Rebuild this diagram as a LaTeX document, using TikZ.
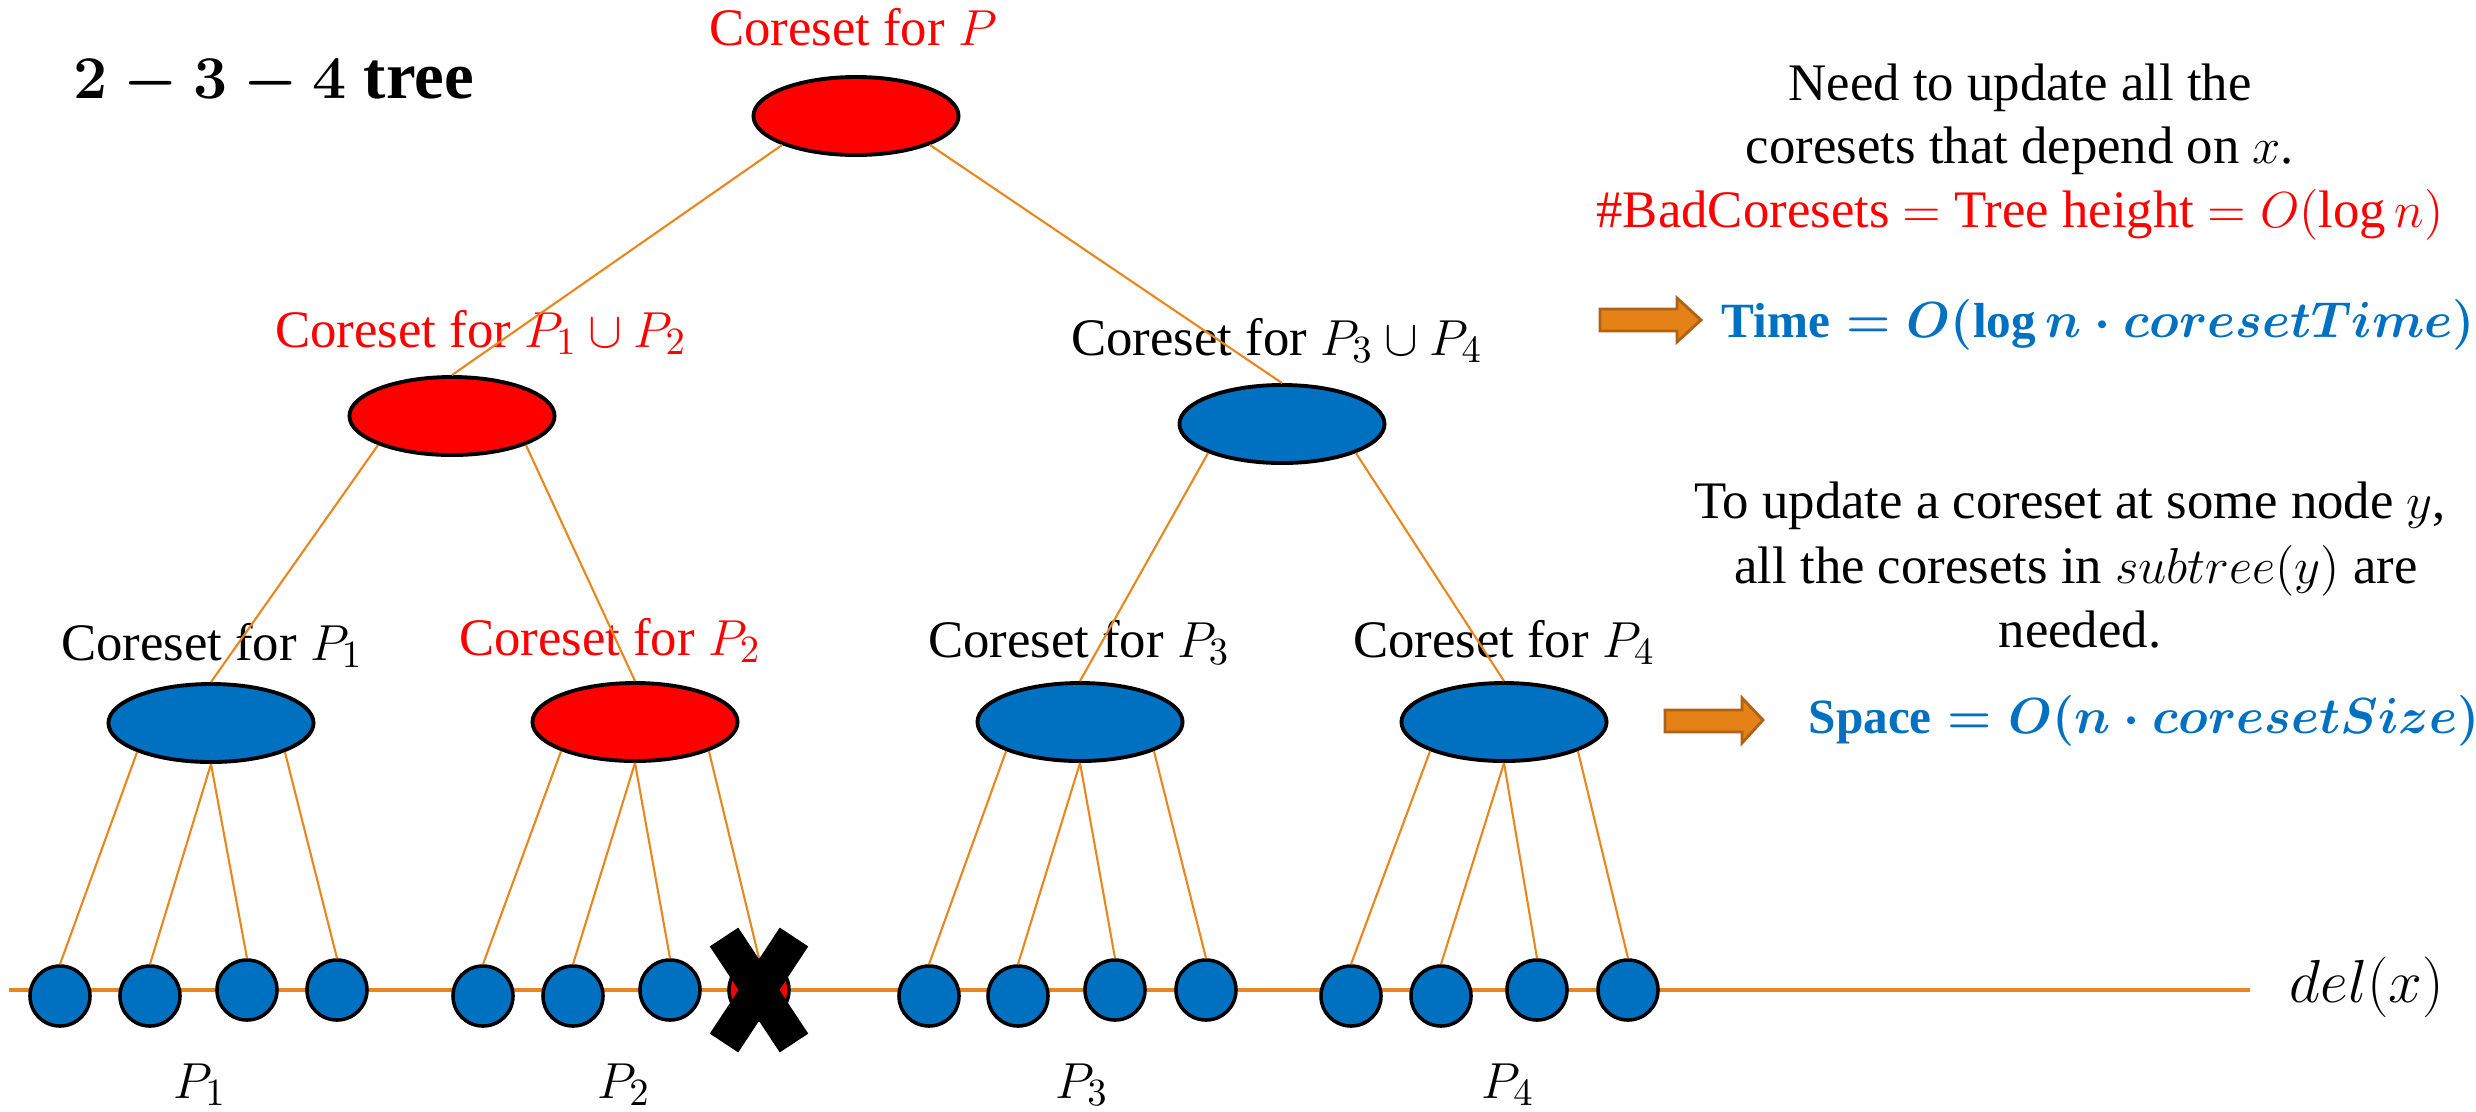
\documentclass[tikz,border=0pt]{standalone}
\usepackage{fontspec}
\setmainfont{Liberation Serif}
\usetikzlibrary{shapes.geometric}
\definecolor{ppblue}{RGB}{0,112,192}
\definecolor{ppred}{RGB}{255,0,0}
\definecolor{lineor}{RGB}{232,135,30}
\definecolor{arrfill}{RGB}{228,130,24}
\definecolor{arredge}{RGB}{176,98,20}
\tikzset{
  tnode/.style={ellipse, draw=black, line width=1.1pt, minimum width=2.05cm, minimum height=0.78cm, inner sep=0pt},
  leaf/.style={circle, draw=black, line width=1pt, fill=ppblue, minimum size=0.6cm, inner sep=0pt},
  link/.style={draw=lineor, line width=0.6pt},
  baseline/.style={draw=lineor, line width=1pt},
  lbl/.style={inner sep=0pt, anchor=base, font=\fontsize{15pt}{18pt}\selectfont},
  biglbl/.style={inner sep=0pt, anchor=base, font=\fontsize{18pt}{21pt}\selectfont},
  reslbl/.style={inner sep=0pt, anchor=base west, text=ppblue, font=\fontsize{14pt}{17pt}\selectfont},
  blockarrow/.style={fill=arrfill, draw=arredge, line width=0.8pt, line join=miter},
  xmark/.style={draw=black, line width=9.7pt, line cap=butt}
}
\begin{document}
\begin{tikzpicture}[x=0.01cm, y=-0.01cm]
\useasboundingbox (0,0) rectangle (2476,1111);

% title
\node[inner sep=0pt, anchor=base west, font=\fontsize{19pt}{22pt}\selectfont\bfseries] (title) at (73,98) {{\boldmath$2-3-4$} tree};

% labels of the tree nodes
\node[lbl, text=ppred] (lroot) at (853,45) {Coreset for $P$};
\node[lbl, text=ppred] (lml) at (481,347) {Coreset for $P_1\cup P_2$};
\node[lbl] (lmr) at (1277,355) {Coreset for $P_3\cup P_4$};
\node[lbl] (le1) at (212,660) {Coreset for $P_1$};
\node[lbl, text=ppred] (le2) at (610,655) {Coreset for $P_2$};
\node[lbl] (le3) at (1079,657) {Coreset for $P_3$};
\node[lbl] (le4) at (1504,657) {Coreset for $P_4$};

% group labels under the points
\node[lbl] (g1) at (200,1098) {$P_1$};
\node[lbl] (g2) at (624,1098) {$P_2$};
\node[lbl] (g3) at (1082,1098) {$P_3$};
\node[lbl] (g4) at (1508,1098) {$P_4$};
\node[biglbl] (del) at (2367,1002) {$del(x)$};

% the stream of points
\coordinate (hl0) at (9,990);
\coordinate (hl1) at (2250,990);
\draw[baseline] (hl0) -- (hl1);

\node[leaf] (a1) at (60,996) {};
\node[leaf] (a2) at (150,996) {};
\node[leaf] (a3) at (247,990) {};
\node[leaf] (a4) at (337,990) {};
\node[leaf] (b1) at (483,996) {};
\node[leaf] (b2) at (573,996) {};
\node[leaf] (b3) at (670,990) {};
\node[leaf, fill=ppred] (b4) at (759,990) {};
\node[leaf] (c1) at (929,996) {};
\node[leaf] (c2) at (1018,996) {};
\node[leaf] (c3) at (1115,990) {};
\node[leaf] (c4) at (1206,990) {};
\node[leaf] (d1) at (1351,996) {};
\node[leaf] (d2) at (1441,996) {};
\node[leaf] (d3) at (1537,990) {};
\node[leaf] (d4) at (1628,990) {};

% tree nodes
\node[tnode, fill=ppred] (root) at (856,116) {};
\node[tnode, fill=ppred] (ml) at (452,416) {};
\node[tnode, fill=ppblue] (mr) at (1282,424) {};
\node[tnode, fill=ppblue] (e1) at (211,723) {};
\node[tnode, fill=ppred] (e2) at (635,722) {};
\node[tnode, fill=ppblue] (e3) at (1080,722) {};
\node[tnode, fill=ppblue] (e4) at (1504,722) {};

% edges
\draw[link] (root.south west) -- (ml.north);
\draw[link] (root.south east) -- (mr.north);
\draw[link] (ml.south west) -- (e1.north);
\draw[link] (ml.south east) -- (e2.north);
\draw[link] (mr.south west) -- (e3.north);
\draw[link] (mr.south east) -- (e4.north);
\foreach \e/\p in {e1/a, e2/b, e3/c, e4/d}{
  \draw[link] (\e.south west) -- (\p1.north);
  \draw[link] (\e.south) -- (\p2.north);
  \draw[link] (\e.south) -- (\p3.north);
  \draw[link] (\e.south east) -- (\p4.north);
}

% deleted point
\draw[xmark] ([shift={(-35,-53)}]b4.center) -- ([shift={(35,53)}]b4.center);
\draw[xmark] ([shift={(35,-53)}]b4.center) -- ([shift={(-35,53)}]b4.center);

% explanation on the right
\node[lbl] (need1) at (2020,100) {Need to update all the};
\node[lbl] (need2) at (2020,163) {coresets that depend on $x$.};
\node[lbl, text=ppred] (badc) at (2020,227) {\#BadCoresets $=$ Tree height $=O(\log n)$};
\draw[blockarrow] (1600,309) -- (1677,309) -- (1677,298) -- (1701,320) -- (1677,342) -- (1677,331) -- (1600,331) -- cycle;
\node[reslbl] (time) at (1721,337) {\textbf{Time}{\boldmath$\;=O(\log n\cdot coresetTime)$}};

\node[lbl] (upd1) at (2070,518) {To update a coreset at some node $y$,};
\node[lbl] (upd2) at (2076,583) {all the coresets in $subtree(y)$ are};
\node[lbl] (upd3) at (2080,647) {needed.};
\draw[blockarrow] (1665,710) -- (1742,710) -- (1742,698) -- (1763,720) -- (1742,743) -- (1742,732) -- (1665,732) -- cycle;
\node[reslbl] (space) at (1808,733) {\textbf{Space}{\boldmath$\;=O(n\cdot coresetSize)$}};
\end{tikzpicture}
\end{document}
